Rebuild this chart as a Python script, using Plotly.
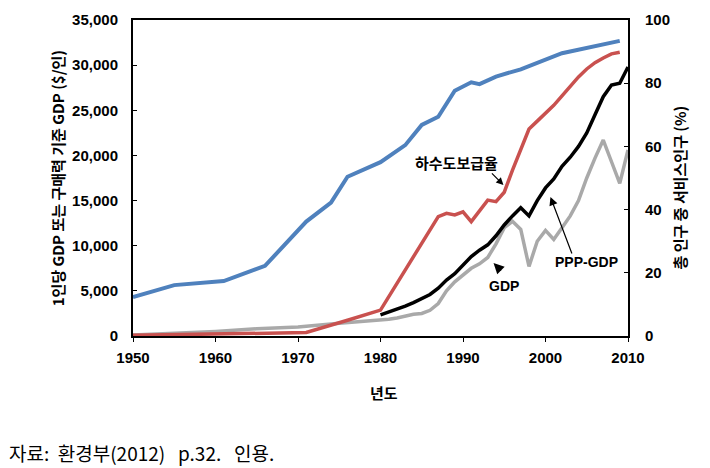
import plotly.graph_objects as go

# ---- data ----
blue_years = [1950, 1955, 1961, 1966, 1971, 1974, 1976, 1980, 1983, 1985, 1987, 1989, 1991, 1992, 1994, 1997, 2002, 2009]
blue_pct = [12.3, 16.1, 17.4, 22.2, 36.2, 42.2, 50.4, 55.0, 60.4, 66.8, 69.4, 77.6, 80.3, 79.7, 82.1, 84.4, 89.5, 93.4]

sewer_years = [1950, 1960, 1971, 1976, 1980, 1987, 1988, 1989, 1990, 1991, 1992, 1993, 1994, 1995, 1996, 1997,
               1998, 1999, 2000, 2001, 2002, 2003, 2004, 2005, 2006, 2007, 2008, 2009]
sewer_pct = [0.2, 0.5, 1.1, 5.0, 8.2, 37.8, 38.8, 38.3, 39.3, 36.2, 39.5, 43.0, 42.5, 45.5, 52.5, 59.0,
             65.5, 68.0, 70.5, 73.0, 76.0, 79.0, 82.0, 84.5, 86.5, 88.0, 89.3, 89.8]

gdp_years = [1950, 1955, 1960, 1965, 1970, 1975, 1980, 1981, 1982, 1983, 1984, 1985, 1986, 1987, 1988, 1989,
             1990, 1991, 1992, 1993, 1994, 1995, 1996, 1997, 1998, 1999, 2000, 2001, 2002, 2003, 2004,
             2005, 2006, 2007, 2008, 2009, 2010]
gdp_vals = [100, 300, 500, 800, 1000, 1400, 1700, 1850, 2000, 2200, 2400, 2500, 2850, 3600, 5000, 6000,
            6700, 7500, 8000, 8700, 10200, 12000, 12700, 11800, 7700, 10500, 11700, 10700, 12000, 13300, 15000,
            17500, 19700, 21700, 19300, 16900, 20600]

ppp_years = list(range(1980, 2011))
ppp_vals = [2330, 2650, 2950, 3300, 3700, 4100, 4600, 5300, 6200, 6900, 7900, 8800, 9500, 10100, 11100,
            12300, 13300, 14200, 13300, 15000, 16400, 17400, 18800, 19800, 21000, 22500, 24500, 26500,
            27800, 28000, 29800]

x_ticks = [1950, 1960, 1970, 1980, 1990, 2000, 2010]
left_ticks = [0, 5000, 10000, 15000, 20000, 25000, 30000, 35000]
right_ticks = [0, 20, 40, 60, 80, 100]

fig = go.Figure()
fig.add_trace(go.Scatter(x=gdp_years, y=gdp_vals, mode="lines", name="GDP",
                         line=dict(color="#A9A9A9", width=3.5)))
fig.add_trace(go.Scatter(x=blue_years, y=blue_pct, mode="lines", name="상수도보급율", yaxis="y2",
                         line=dict(color="#4F81BD", width=4)))
fig.add_trace(go.Scatter(x=sewer_years, y=sewer_pct, mode="lines", name="하수도보급율", yaxis="y2",
                         line=dict(color="#C9514F", width=3.5)))
fig.add_trace(go.Scatter(x=ppp_years, y=ppp_vals, mode="lines", name="PPP-GDP",
                         line=dict(color="#000000", width=3.5)))

tick_font = dict(family="Liberation Sans, Arial, sans-serif", size=15, color="#000000", weight="bold")
kfont = "Noto Sans CJK KR, sans-serif"

fig.update_layout(
    width=710, height=468,
    margin=dict(l=133, r=82, t=20, b=132),
    paper_bgcolor="white", plot_bgcolor="white",
    showlegend=False,
    xaxis=dict(range=[1950, 2010], tickvals=x_ticks, showgrid=False, zeroline=False,
               showline=True, linecolor="black", linewidth=2, mirror=True,
               ticks="outside", ticklen=4, tickcolor="black",
               tickfont=tick_font, ticklabelstandoff=3),
    yaxis=dict(range=[0, 35000], tickvals=left_ticks, tickformat=",", showgrid=False, zeroline=False,
               showline=True, linecolor="black", linewidth=2,
               ticks="inside", ticklen=4, tickcolor="black",
               tickfont=tick_font, ticklabelstandoff=10),
    yaxis2=dict(range=[0, 100], tickvals=right_ticks, overlaying="y", side="right",
                showgrid=False, zeroline=False,
                showline=True, linecolor="black", linewidth=2,
                ticks="inside", ticklen=4, tickcolor="black",
                tickfont=tick_font, ticklabelstandoff=12),
)

annots = [
    # axis titles
    dict(text="<b>1인당 GDP 또는 구매력 기준 GDP ($/인)</b>", xref="paper", yref="paper", x=-0.153, y=0.5,
         textangle=-90, showarrow=False, font=dict(family=kfont, size=15, color="black"),
         xanchor="center", yanchor="middle"),
    dict(text="<b>총 인구 중 서비스인구 (%)</b>", xref="paper", yref="paper", x=1.105, y=0.47,
         textangle=-90, showarrow=False, font=dict(family=kfont, size=15, color="black"),
         xanchor="center", yanchor="middle"),
    dict(text="<b>년도</b>", xref="paper", yref="paper", x=0.507, y=-0.18,
         showarrow=False, font=dict(family=kfont, size=15, color="black"),
         xanchor="center", yanchor="middle"),
    # series labels
    dict(text="<b>하수도보급율</b>", x=1989.2, y=55.0, yref="y2", showarrow=False,
         font=dict(family=kfont, size=15, color="black")),
    dict(text="<b>GDP</b>", x=1995.0, y=15.8, yref="y2", showarrow=False,
         font=dict(family="Liberation Sans, Arial, sans-serif", size=14, color="black")),
    dict(text="<b>PPP-GDP</b>", x=2005.0, y=23.5, yref="y2", showarrow=False,
         font=dict(family="Liberation Sans, Arial, sans-serif", size=14, color="black")),
    # arrows
    dict(text="", x=1994.9, y=47.8, yref="y2", ax=-13, ay=-13, showarrow=True,
         arrowhead=2, arrowsize=1.2, arrowwidth=1.2, arrowcolor="black"),
    dict(text="", x=1993.7, y=23.1, yref="y2", ax=9, ay=9, showarrow=True,
         arrowhead=2, arrowsize=1.4, arrowwidth=1.5, arrowcolor="black"),
    dict(text="", x=2000.6, y=44.0, yref="y2", ax=22, ay=58, showarrow=True,
         arrowhead=2, arrowsize=1.4, arrowwidth=1.2, arrowcolor="black"),
    # source note
    dict(text="자료:  환경부(2012)   p.32.   인용.", xref="paper", yref="paper",
         x=-0.255, y=-0.37, xanchor="left", yanchor="middle", showarrow=False,
         font=dict(family=kfont, size=19, color="black")),
]
fig.update_layout(annotations=annots)

fig.write_html("out.html", config={"displayModeBar": False},
               post_script="document.body.style.margin='0';document.body.style.overflow='hidden';")
